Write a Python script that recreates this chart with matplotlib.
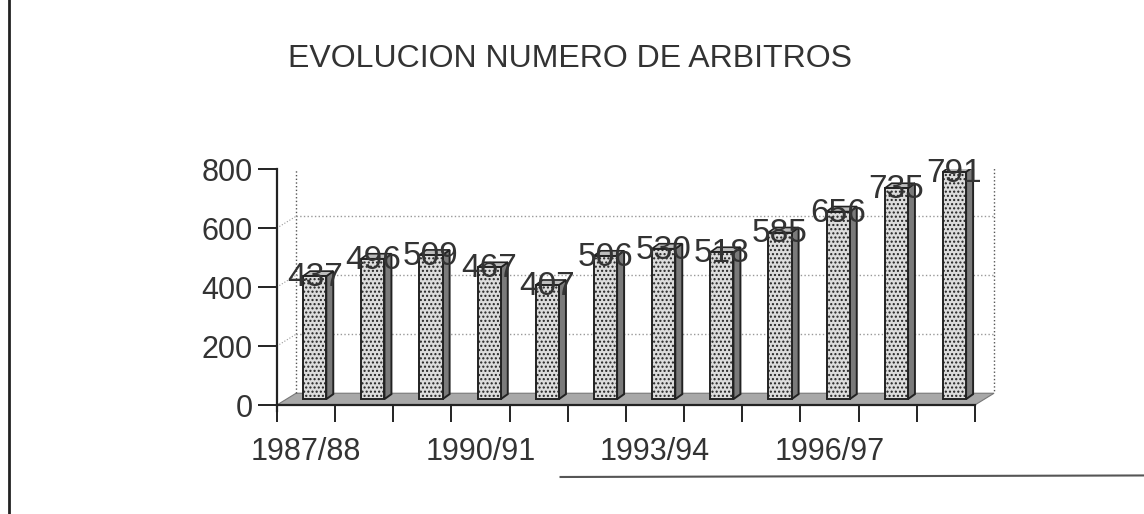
import matplotlib.pyplot as plt
from matplotlib.patches import Polygon
from matplotlib.lines import Line2D

temporadas = ["1987/88", "1988/89", "1989/90", "1990/91", "1991/92", "1992/93",
              "1993/94", "1994/95", "1995/96", "1996/97", "1997/98", "1998/99"]
arbitros = [437, 496, 509, 467, 407, 506, 530, 518, 585, 656, 735, 791]
yticks = [0, 200, 400, 600, 800]

plt.rcParams['font.family'] = ['Liberation Sans', 'DejaVu Sans']

fig = plt.figure(figsize=(11.44, 5.14), dpi=100)
ax = fig.add_axes([0.242, 0.212, 0.632, 0.459])

n = len(arbitros)
# 3D look: depth offsets in data units
fx, fy = 0.33, 40      # floor / back wall depth
sx, sy = 0.12, 17      # bar side depth
w = 0.40

# back wall (dotted)
ax.plot([fx, fx, n + fx, n + fx], [fy, 800 + fy + 8, 800 + fy + 8, fy],
        ls=':', color='#555555', lw=1)
for t in yticks[1:]:
    ax.plot([fx, n + fx], [t + fy, t + fy], ls=':', color='#999999', lw=1)
    ax.plot([0, fx], [t, t + fy], ls=':', color='#999999', lw=0.8)

# floor
ax.add_patch(Polygon([(0, 0), (n, 0), (n + fx, fy), (fx, fy)],
                     closed=True, facecolor='#a8a8a8', edgecolor='#777777',
                     lw=0.8, zorder=1))

for i, v in enumerate(arbitros):
    x0 = i + 0.5 - w / 2 + 0.15
    b0 = fy / 2
    # side face
    ax.add_patch(Polygon([(x0 + w, b0), (x0 + w + sx, b0 + sy),
                          (x0 + w + sx, v + sy), (x0 + w, v)],
                         closed=True, facecolor='#7a7a7a', edgecolor='#222222',
                         lw=1.4, zorder=3))
    # top face
    ax.add_patch(Polygon([(x0, v), (x0 + w, v), (x0 + w + sx, v + sy),
                          (x0 + sx, v + sy)],
                         closed=True, facecolor='#bdbdbd', edgecolor='#222222',
                         lw=1.2, zorder=3))
    # front face
    ax.bar(x0, v - b0, bottom=b0, width=w, align='edge', color='#dcdcdc',
           edgecolor='#222222', lw=1.4, hatch='....', zorder=4)
    ax.text(x0 + w / 2, v - 5, str(v), ha='center', va='center',
            fontsize=24, color='#333333', zorder=5)

ax.set_xlim(0, n + fx + 0.1)
ax.set_ylim(0, 800)
ax.set_yticks(yticks)
ax.set_xticks(range(n + 1))
ax.set_xticklabels([])
for i in range(0, n, 3):
    ax.text(i + 0.5, -110, temporadas[i], ha='center', va='top',
            fontsize=22, color='#333333')

for s in ['top', 'right']:
    ax.spines[s].set_visible(False)
ax.spines['left'].set_bounds(-20, 800)
ax.spines['bottom'].set_bounds(0, n)
for s in ['left', 'bottom']:
    ax.spines[s].set_linewidth(1.6)
    ax.spines[s].set_color('#222222')
ax.tick_params(axis='y', direction='out', length=14, width=1.4,
               labelsize=22, colors='#222222')
ax.tick_params(axis='x', direction='out', length=12, width=1.4, colors='#222222')
for lbl in ax.get_yticklabels():
    lbl.set_color('#333333')

fig.text(0.498, 0.885, "EVOLUCION NUMERO DE ARBITROS", ha='center', va='center',
         fontsize=23, color='#333333')

# page frame from the scan
fig.add_artist(Line2D([0.008, 0.008], [0, 1], color='#222222', lw=2))
fig.add_artist(Line2D([0.49, 1.0], [0.072, 0.075], color='#555555', lw=1.5))

fig.savefig("out.png", dpi=100, facecolor='white')
